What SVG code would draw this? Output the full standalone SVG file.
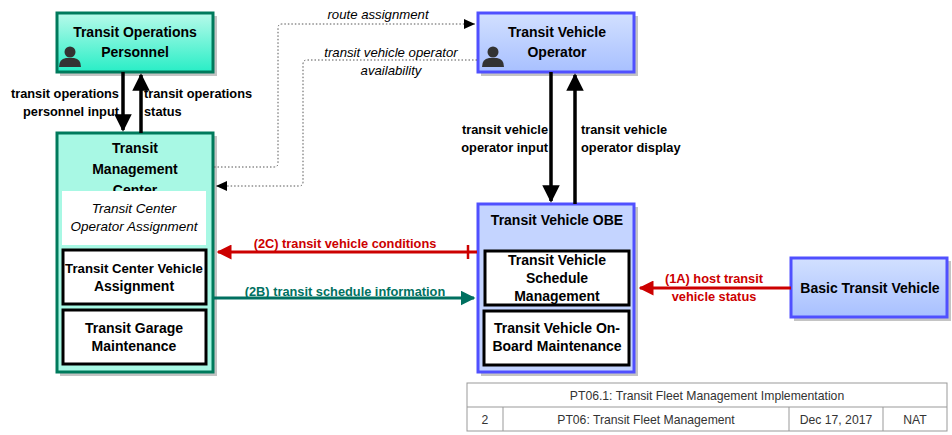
<svg xmlns="http://www.w3.org/2000/svg" width="952" height="435" viewBox="0 0 952 435">
<style>
.t{font-family:"Liberation Sans",Arial,sans-serif;font-weight:bold;font-size:14px;fill:#000;text-anchor:middle}
.ti{font-family:"Liberation Sans",Arial,sans-serif;font-style:italic;font-size:13.5px;fill:#000;text-anchor:middle}
.l{font-family:"Liberation Sans",Arial,sans-serif;font-weight:bold;font-size:12.8px;fill:#000}
.li{font-family:"Liberation Sans",Arial,sans-serif;font-style:italic;font-size:13.2px;fill:#000;text-anchor:middle}
.tb{font-family:"Liberation Sans",Arial,sans-serif;font-size:12.2px;fill:#333;text-anchor:middle}
.sh{fill:#c4c4c4}
.g{stroke:#007a5c;stroke-width:3}
.b{stroke:#5050ff;stroke-width:3}
.in{fill:#fff;stroke:#000;stroke-width:3}
.dot{fill:none;stroke:#555;stroke-width:1;stroke-dasharray:1.5,2}
.thick{stroke:#000;stroke-width:3.5;fill:none}
.icon{fill:#333}
</style>
<defs>
<linearGradient id="gGreen" x1="0" y1="0" x2="0" y2="1"><stop offset="0" stop-color="#b8faea"/><stop offset="1" stop-color="#28eec6"/></linearGradient>
<linearGradient id="gBlue" x1="0" y1="0" x2="0" y2="1"><stop offset="0" stop-color="#d2e0ff"/><stop offset="1" stop-color="#a8c0ff"/></linearGradient>
<marker id="ab" markerWidth="5" markerHeight="5" refX="4.5" refY="2.5" orient="auto" markerUnits="strokeWidth"><path d="M0,0 L5,2.5 L0,5 Z" fill="#000"/></marker>
<marker id="ad" markerWidth="12" markerHeight="12" refX="11" refY="6" orient="auto" markerUnits="userSpaceOnUse"><path d="M0,1 L11,6 L0,11 Z" fill="#000"/></marker>
<marker id="ar" markerWidth="5" markerHeight="5" refX="4.5" refY="2.5" orient="auto" markerUnits="strokeWidth"><path d="M0,0 L5,2.5 L0,5 Z" fill="#cc0000"/></marker>
<marker id="ag" markerWidth="5" markerHeight="5" refX="4.5" refY="2.5" orient="auto" markerUnits="strokeWidth"><path d="M0,0 L5,2.5 L0,5 Z" fill="#007060"/></marker>
</defs>

<g id="transit-operations-personnel">
<rect class="sh" x="60" y="16" width="157" height="60"/>
<rect x="57" y="13" width="156" height="59" fill="url(#gGreen)" class="g"/>
<circle class="icon" cx="70" cy="52" r="5.5"/>
<path class="icon" d="M59,67 Q59,59 66,58 L74,58 Q81,59 81,67 Z"/>
<text class="t" x="135" y="37">Transit Operations</text>
<text class="t" x="135" y="57">Personnel</text>
</g>

<g id="transit-management-center">
<rect class="sh" x="60" y="136" width="157" height="240"/>
<rect x="57" y="133" width="156" height="239" fill="#a8f8e4" class="g"/>
<text class="t" x="135" y="153">Transit</text>
<text class="t" x="135" y="174">Management</text>
<text class="t" x="135" y="195">Center</text>
<rect x="62" y="191" width="144" height="54" fill="#fff"/>
<text class="ti" x="134" y="213">Transit Center</text>
<text class="ti" x="134" y="231">Operator Assignment</text>
<rect x="63" y="250" width="143" height="54" class="in"/>
<text class="t" x="134" y="273" style="font-size:13.2px">Transit Center Vehicle</text>
<text class="t" x="134" y="291">Assignment</text>
<rect x="63" y="310" width="143" height="54" class="in"/>
<text class="t" x="134" y="333">Transit Garage</text>
<text class="t" x="134" y="351">Maintenance</text>
</g>

<g id="transit-vehicle-operator">
<rect class="sh" x="481" y="16" width="157" height="60"/>
<rect x="478" y="13" width="156" height="59" fill="url(#gBlue)" class="b"/>
<circle class="icon" cx="493" cy="52" r="5.5"/>
<path class="icon" d="M482,67 Q482,59 489,58 L497,58 Q504,59 504,67 Z"/>
<text class="t" x="557" y="37">Transit Vehicle</text>
<text class="t" x="557" y="57">Operator</text>
</g>

<g id="transit-vehicle-obe">
<rect class="sh" x="481" y="207" width="157" height="169"/>
<rect x="478" y="204" width="156" height="168" fill="#c4d4ff" class="b"/>
<text class="t" x="557" y="225">Transit Vehicle OBE</text>
<rect x="485" y="251" width="144" height="54" class="in"/>
<text class="t" x="557" y="265">Transit Vehicle</text>
<text class="t" x="557" y="283">Schedule</text>
<text class="t" x="557" y="301">Management</text>
<rect x="484" y="311" width="145" height="54" class="in"/>
<text class="t" x="557" y="333">Transit Vehicle On-</text>
<text class="t" x="557" y="351">Board Maintenance</text>
</g>

<g id="basic-transit-vehicle">
<rect class="sh" x="794" y="261" width="157" height="60"/>
<rect x="791" y="258" width="156" height="59" fill="url(#gBlue)" class="b"/>
<text class="t" x="870" y="293">Basic Transit Vehicle</text>
</g>

<g id="connectors">
<line class="thick" x1="123" y1="72" x2="123" y2="130" marker-end="url(#ab)"/>
<line class="thick" x1="141" y1="133" x2="141" y2="75" marker-end="url(#ab)"/>
<line class="thick" x1="551" y1="72" x2="551" y2="201" marker-end="url(#ab)"/>
<line class="thick" x1="575" y1="204" x2="575" y2="75" marker-end="url(#ab)"/>
<path class="dot" d="M214,167 L274,167 Q278,167 278,163 L278,28 Q278,24 282,24 L475,24" marker-end="url(#ad)"/>
<path class="dot" d="M477,60 L307,60 Q303,60 303,64 L303,182 Q303,186 299,186 L216,186" marker-end="url(#ad)"/>
<line x1="477" y1="252" x2="218" y2="252" stroke="#cc0000" stroke-width="3" marker-end="url(#ar)"/>
<line x1="468" y1="245" x2="468" y2="259" stroke="#cc0000" stroke-width="2.5"/>
<line x1="214" y1="298" x2="474" y2="298" stroke="#007060" stroke-width="3" marker-end="url(#ag)"/>
<line x1="791" y1="288" x2="640" y2="288" stroke="#cc0000" stroke-width="3" marker-end="url(#ar)"/>
</g>

<g id="labels">
<text class="l" x="119" y="98" text-anchor="end">transit operations</text>
<text class="l" x="119" y="116" text-anchor="end">personnel input</text>
<text class="l" x="144" y="98">transit operations</text>
<text class="l" x="144" y="116">status</text>
<text class="l" x="548" y="134" text-anchor="end">transit vehicle</text>
<text class="l" x="548" y="152" text-anchor="end">operator input</text>
<text class="l" x="581" y="134">transit vehicle</text>
<text class="l" x="581" y="152">operator display</text>
<text class="li" x="378" y="19">route assignment</text>
<text class="li" x="391" y="57">transit vehicle operator</text>
<text class="li" x="391" y="75">availability</text>
<text class="l" x="345" y="248" text-anchor="middle" style="fill:#cc0000">(2C) transit vehicle conditions</text>
<text class="l" x="345" y="296" text-anchor="middle" style="fill:#007060">(2B) transit schedule information</text>
<text class="l" x="714" y="283" text-anchor="middle" style="fill:#cc0000">(1A) host transit</text>
<text class="l" x="714" y="301" text-anchor="middle" style="fill:#cc0000">vehicle status</text>
</g>

<g id="title-block">
<rect x="467" y="383" width="480" height="48" fill="#fff" stroke="#999" stroke-width="1"/>
<line x1="467" y1="407" x2="947" y2="407" stroke="#999"/>
<line x1="503" y1="407" x2="503" y2="431" stroke="#999"/>
<line x1="789" y1="407" x2="789" y2="431" stroke="#999"/>
<line x1="883" y1="407" x2="883" y2="431" stroke="#999"/>
<text class="tb" x="707" y="400">PT06.1: Transit Fleet Management Implementation</text>
<text class="tb" x="485" y="424">2</text>
<text class="tb" x="646" y="424">PT06: Transit Fleet Management</text>
<text class="tb" x="836" y="424">Dec 17, 2017</text>
<text class="tb" x="915" y="424">NAT</text>
</g>
</svg>
